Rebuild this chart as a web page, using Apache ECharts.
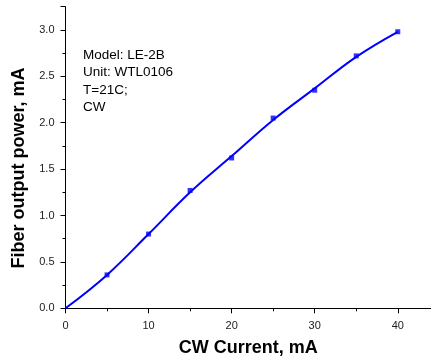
<!DOCTYPE html>
<html>
<head>
<meta charset="utf-8">
<script src="https://cdn.jsdelivr.net/npm/echarts@6/dist/echarts.min.js"></script>
<style>
  html, body { margin: 0; padding: 0; background: #fff; }
  #chart { width: 431px; height: 360px; }
</style>
</head>
<body>
<div id="chart"></div>
<script>
// measured points (CW current, mA -> fiber output power)
const currentList = [5, 10, 15, 20, 25, 30, 35, 40];
const powerList = [0.36, 0.80, 1.27, 1.62, 2.05, 2.35, 2.72, 2.98];
// the drawn curve at the same currents
const curveCurrent = [0, 5, 10, 15, 20, 25, 30, 35, 40];
const curvePower = [0, 0.36, 0.80, 1.25, 1.64, 2.03, 2.37, 2.71, 2.98];
const xTicks = [0, 10, 20, 30, 40];
const yTicks = [0, 0.5, 1.0, 1.5, 2.0, 2.5, 3.0];
const noteLines = ['Model: LE-2B', 'Unit: WTL0106', 'T=21C;', 'CW'];

const mychart = echarts.init(document.getElementById('chart'));
const axisColor = '#000';
const fontFamily = '"Liberation Sans", Arial, sans-serif';

let option = {
  animation: false,
  grid: {
    left: 65.5,
    right: 0,
    top: 6.7,
    bottom: 51.7,
    outerBoundsMode: 'none'
  },
  xAxis: {
    type: 'value',
    min: 0,
    max: 44,
    interval: 10,
    name: 'CW Current, mA',
    nameLocation: 'middle',
    nameGap: 31,
    nameTextStyle: {
      color: '#000',
      fontSize: 18,
      fontWeight: 'bold',
      fontFamily: fontFamily
    },
    axisLine: { lineStyle: { color: axisColor, width: 1 } },
    axisTick: { length: 5, lineStyle: { color: axisColor } },
    minorTick: { show: true, splitNumber: 2, length: 3, lineStyle: { color: axisColor } },
    splitLine: { show: false },
    axisLabel: {
      color: '#222',
      fontSize: 11,
      fontFamily: fontFamily,
      margin: 12,
      formatter: function (v) {
        return xTicks.indexOf(v) >= 0 ? String(v) : '';
      }
    }
  },
  yAxis: {
    type: 'value',
    min: 0,
    max: 3.25,
    interval: 0.5,
    name: 'Fiber output power, mA',
    nameLocation: 'middle',
    nameGap: 34,
    nameTextStyle: {
      color: '#000',
      fontSize: 18,
      fontWeight: 'bold',
      fontFamily: fontFamily,
      padding: [0, 21, 0, 0]
    },
    axisLine: { show: true, lineStyle: { color: axisColor, width: 1 } },
    axisTick: { show: true, length: 5, lineStyle: { color: axisColor } },
    minorTick: { show: true, splitNumber: 2, length: 3, lineStyle: { color: axisColor } },
    splitLine: { show: false },
    axisLabel: {
      color: '#222',
      fontSize: 11,
      fontFamily: fontFamily,
      margin: 11,
      formatter: function (v) {
        return yTicks.indexOf(v) >= 0 ? v.toFixed(1) : '';
      }
    }
  },
  graphic: [{
    type: 'text',
    left: 83,
    top: 46,
    style: {
      text: noteLines.join('\n'),
      fontSize: 13.5,
      lineHeight: 17.6,
      fontFamily: fontFamily,
      fill: '#000'
    }
  }],
  series: [
    {
      name: 'curve',
      type: 'line',
      smooth: 0.4,
      showSymbol: false,
      lineStyle: { color: '#0000ff', width: 2 },
      itemStyle: { color: '#0000ff' },
      data: curveCurrent.map(function (c, i) { return [c, curvePower[i]]; })
    },
    {
      name: 'measured',
      type: 'scatter',
      symbol: 'rect',
      symbolSize: 5,
      itemStyle: { color: '#0000ff' },
      data: currentList.map(function (c, i) { return [c, powerList[i]]; })
    }
  ]
};
mychart.setOption(option);
</script>
</body>
</html>
